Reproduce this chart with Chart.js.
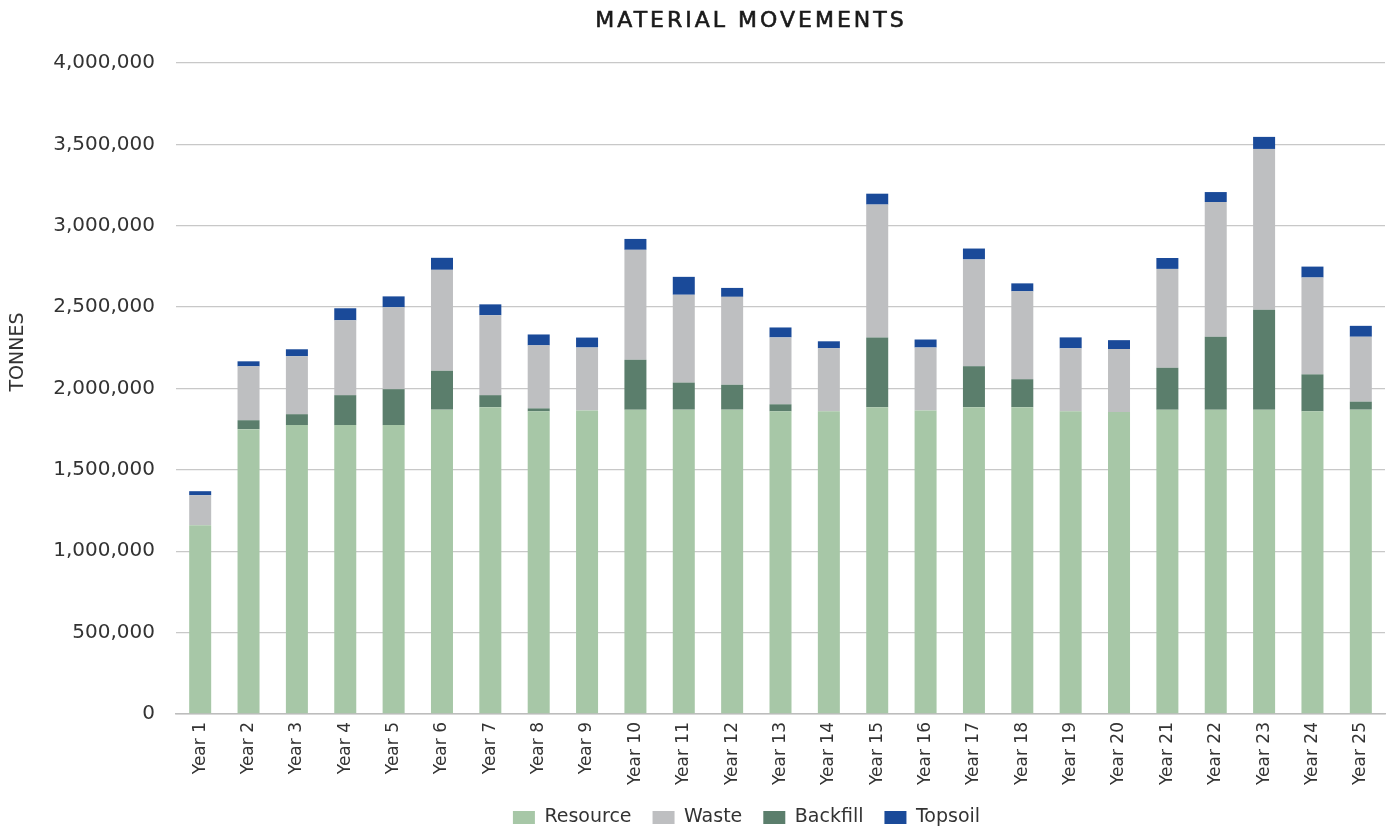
<!DOCTYPE html>
<html>
<head>
<meta charset="utf-8">
<script src="https://cdn.jsdelivr.net/npm/chart.js@4"></script>
<style>
  html, body { margin: 0; padding: 0; background: #fff; }
  #wrap { width: 1393px; height: 829px; }
</style>
</head>
<body>
<div id="wrap"><canvas id="myChart" width="1393" height="829"></canvas></div>
<script>
const years = ['Year 1', 'Year 2', 'Year 3', 'Year 4', 'Year 5', 'Year 6', 'Year 7', 'Year 8', 'Year 9', 'Year 10',
    'Year 11', 'Year 12', 'Year 13', 'Year 14', 'Year 15', 'Year 16', 'Year 17', 'Year 18', 'Year 19', 'Year 20',
    'Year 21', 'Year 22', 'Year 23', 'Year 24', 'Year 25'];

const resource = [1160000, 1750000, 1775000, 1775000, 1775000, 1870000, 1885000, 1860000, 1865000, 1870000,
    1870000, 1870000, 1860000, 1860000, 1885000, 1865000, 1885000, 1885000, 1860000, 1855000,
    1870000, 1870000, 1870000, 1860000, 1870000];
const backfill = [0, 55000, 67000, 184000, 221000, 239000, 74000, 18000, 0, 307000,
    166000, 153000, 43000, 0, 429000, 0, 252000, 172000, 0, 0,
    258000, 448000, 614000, 227000, 49000];
const waste = [184000, 331000, 356000, 460000, 503000, 620000, 491000, 387000, 387000, 675000,
    540000, 540000, 411000, 387000, 816000, 387000, 656000, 540000, 387000, 387000,
    607000, 828000, 988000, 595000, 399000];
const topsoil = [25000, 31000, 43000, 74000, 67000, 74000, 67000, 67000, 61000, 67000,
    110000, 55000, 61000, 43000, 67000, 49000, 67000, 49000, 67000, 55000,
    67000, 61000, 74000, 67000, 67000];

const yTicks = [0, 500000, 1000000, 1500000, 2000000, 2500000, 3000000, 3500000, 4000000];
const legendOrder = ['Resource', 'Waste', 'Backfill', 'Topsoil'];

const FONT = '"DejaVu Sans", sans-serif';
const TEXT = '#333333';

// chart title and y axis title drawn by hand so they sit where the original ones do
const titlePlugin = {
    id: 'chartTitle',
    afterDraw(chart) {
        const ctx = chart.ctx;
        ctx.save();
        ctx.font = '22px ' + FONT;
        ctx.letterSpacing = '3px';
        ctx.fillStyle = '#1a1a1a';
        ctx.strokeStyle = '#1a1a1a';
        ctx.lineWidth = 0.6;
        ctx.textAlign = 'center';
        ctx.textBaseline = 'middle';
        ctx.fillText('MATERIAL MOVEMENTS', 751, 21);
        ctx.strokeText('MATERIAL MOVEMENTS', 751, 21);
        ctx.restore();

        ctx.save();
        ctx.font = '19px ' + FONT;
        ctx.fillStyle = TEXT;
        ctx.textAlign = 'center';
        ctx.textBaseline = 'middle';
        ctx.translate(18, 352);
        ctx.rotate(-Math.PI / 2);
        ctx.fillText('TONNES', 0, 0);
        ctx.restore();
    }
};

// legend in the original is centred a bit right of the canvas middle
const legendShift = {
    id: 'legendShift',
    afterLayout(chart) {
        chart.legend.left += 52;
        chart.legend.right += 52;
    }
};

const ctx = document.getElementById('myChart').getContext('2d');
new Chart(ctx, {
    type: 'bar',
    data: {
        labels: years,
        datasets: [
            { label: 'Resource', data: resource, backgroundColor: '#a7c7a7' },
            { label: 'Backfill', data: backfill, backgroundColor: '#5b7e6c' },
            { label: 'Waste', data: waste, backgroundColor: '#bebfc1' },
            { label: 'Topsoil', data: topsoil, backgroundColor: '#1a4a99' }
        ]
    },
    options: {
        responsive: false,
        animation: false,
        layout: { padding: { top: 63, right: 8, left: 4, bottom: -8 } },
        datasets: {
            bar: { barPercentage: 0.455, categoryPercentage: 1.0, borderWidth: 0 }
        },
        plugins: {
            title: { display: false },
            tooltip: { enabled: false },
            legend: {
                position: 'bottom',
                labels: {
                    font: { family: FONT, size: 19 },
                    color: TEXT,
                    boxWidth: 22,
                    boxHeight: 13,
                    padding: 21,
                    sort: (a, b) => legendOrder.indexOf(a.text) - legendOrder.indexOf(b.text)
                }
            }
        },
        scales: {
            x: {
                stacked: true,
                afterFit: (axis) => { axis.height = 73; },
                grid: { display: false, drawTicks: false },
                border: { display: true, color: '#bdbdbd', width: 1.5 },
                ticks: {
                    font: { family: FONT, size: 17 },
                    color: TEXT,
                    minRotation: 90,
                    maxRotation: 90,
                    padding: 8,
                    autoSkip: false
                }
            },
            y: {
                stacked: true,
                min: 0,
                max: 4000000,
                afterBuildTicks: (axis) => { axis.ticks = yTicks.map(v => ({ value: v })); },
                afterFit: (axis) => { axis.width = 172; },
                grid: { color: '#c8c8c8', lineWidth: 1.3, drawTicks: false },
                border: { display: false },
                ticks: {
                    font: { family: FONT, size: 20 },
                    color: TEXT,
                    padding: 21,
                    callback: (v) => Number(v).toLocaleString('en-US')
                }
            }
        }
    },
    plugins: [titlePlugin, legendShift]
});
</script>
</body>
</html>
